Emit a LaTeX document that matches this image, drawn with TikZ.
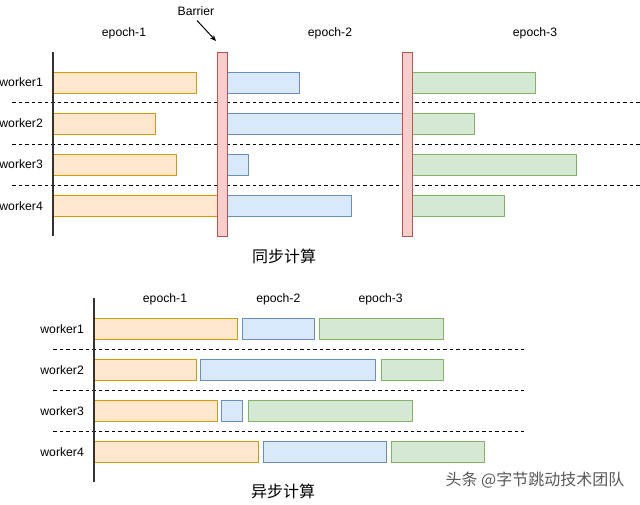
\documentclass[tikz,border=0pt]{standalone}
\usepackage{fontspec}
\setmainfont{Liberation Sans}
\newfontfamily\cjk{Noto Sans CJK SC}
\usetikzlibrary{arrows.meta}
\definecolor{ofill}{HTML}{FFE6CC}
\definecolor{oline}{HTML}{D79B00}
\definecolor{bfill}{HTML}{DAE8FC}
\definecolor{bline}{HTML}{6C8EBF}
\definecolor{gfill}{HTML}{D5E8D4}
\definecolor{gline}{HTML}{82B366}
\definecolor{rfill}{HTML}{F8CECC}
\definecolor{rline}{HTML}{B85450}
\definecolor{axisc}{HTML}{333333}
\tikzset{
  bar/.style={draw, line width=1pt, inner sep=0pt, outer sep=0pt, minimum height=21pt, anchor=west},
  obar/.style={bar, fill=ofill, draw=oline},
  bbar/.style={bar, fill=bfill, draw=bline},
  gbar/.style={bar, fill=gfill, draw=gline},
  rbar/.style={draw=rline, fill=rfill, line width=1pt, inner sep=0pt, minimum width=10pt, minimum height=184pt},
  axisline/.style={draw=axisc, line width=1.6pt},
  sepline/.style={draw=black, line width=1pt, dash pattern=on 3.5pt off 3pt},
  lbl/.style={font=\fontsize{12.2}{14}\selectfont, inner sep=0pt},
  wlbl/.style={lbl, anchor=east},
  title/.style={font=\cjk\fontsize{16}{18}\selectfont, inner sep=0pt},
}
\newcommand\mybar[5]{\node[#1, minimum width=#4pt-#3pt] (#2) at (#3,#5) {};}
\begin{document}
\begin{tikzpicture}[x=1pt,y=-1pt]
\useasboundingbox (0,0) rectangle (640,504);
% ---------- top: synchronous ----------
\coordinate (ta) at (53,52);
\coordinate (tb) at (53,236);
\foreach \y/\n in {102.7/1,144/2,185/3}{
  \coordinate (tsl\n) at (12,\y);
  \coordinate (tsr\n) at (640,\y);
}
\draw[sepline] (tsl1) -- (tsr1);
\draw[sepline] (tsl2) -- (tsr2);
\draw[sepline] (tsl3) -- (tsr3);

\mybar{obar}{a1o}{53}{196.7}{82.5}
\mybar{bbar}{a1b}{227}{299}{82.5}
\mybar{gbar}{a1g}{412}{535.7}{82.5}
\mybar{obar}{a2o}{53}{155.7}{123.5}
\mybar{bbar}{a2b}{227}{402}{123.5}
\mybar{gbar}{a2g}{412}{474}{123.5}
\mybar{obar}{a3o}{53}{176}{164.5}
\mybar{bbar}{a3b}{227}{248}{164.5}
\mybar{gbar}{a3g}{412}{576.7}{164.5}
\mybar{obar}{a4o}{53}{217}{206}
\mybar{bbar}{a4b}{227}{351}{206}
\mybar{gbar}{a4g}{412}{504.7}{206}

\node[rbar] (bar1) at (222,144) {};
\node[rbar] (bar2) at (407.3,144) {};
\draw[axisline] (ta) -- (tb);

\node[wlbl] (tw1) at (43,82.5) {worker1};
\node[wlbl] (tw2) at (43,123.5) {worker2};
\node[wlbl] (tw3) at (43,164.5) {worker3};
\node[wlbl] (tw4) at (43,206) {worker4};
\node[lbl] (te1) at (124,33) {epoch-1};
\node[lbl] (te2) at (330,33) {epoch-2};
\node[lbl] (te3) at (535,33) {epoch-3};
\node[lbl] (blab) at (196,11) {Barrier};
\coordinate (bst) at (197,20.5);
\coordinate (barr) at (216,41);
\draw[line width=1pt, -{Stealth[length=6pt,width=5pt]}] (bst) -- (barr);
\node[title] (t1) at (284,256) {同步计算};

% ---------- bottom: asynchronous ----------
\coordinate (ba) at (94,298);
\coordinate (bb) at (94,482);
\foreach \y/\n in {349.3/1,390/2,431.7/3}{
  \coordinate (bsl\n) at (53,\y);
  \coordinate (bsr\n) at (524,\y);
}
\draw[sepline] (bsl1) -- (bsr1);
\draw[sepline] (bsl2) -- (bsr2);
\draw[sepline] (bsl3) -- (bsr3);

\mybar{obar}{c1o}{94}{237.7}{329}
\mybar{bbar}{c1b}{242.7}{314.7}{329}
\mybar{gbar}{c1g}{319.3}{443.3}{329}
\mybar{obar}{c2o}{94}{196.7}{370}
\mybar{bbar}{c2b}{200.3}{375.3}{370}
\mybar{gbar}{c2g}{381.3}{443.7}{370}
\mybar{obar}{c3o}{94}{217.3}{411}
\mybar{bbar}{c3b}{221}{242}{411}
\mybar{gbar}{c3g}{248}{412.3}{411}
\mybar{obar}{c4o}{94}{258.7}{452}
\mybar{bbar}{c4b}{263.3}{386.7}{452}
\mybar{gbar}{c4g}{391.3}{484.3}{452}
\draw[axisline] (ba) -- (bb);

\node[wlbl] (bw1) at (84,329) {worker1};
\node[wlbl] (bw2) at (84,370) {worker2};
\node[wlbl] (bw3) at (84,411) {worker3};
\node[wlbl] (bw4) at (84,452) {worker4};
\node[lbl] (be1) at (165,299) {epoch-1};
\node[lbl] (be2) at (278.3,299) {epoch-2};
\node[lbl] (be3) at (380.7,299) {epoch-3};
\node[title] (t2) at (283,491) {异步计算};
\node[title, text=black!65] (wm) at (535,480) {头条 @字节跳动技术团队};
\end{tikzpicture}
\end{document}
